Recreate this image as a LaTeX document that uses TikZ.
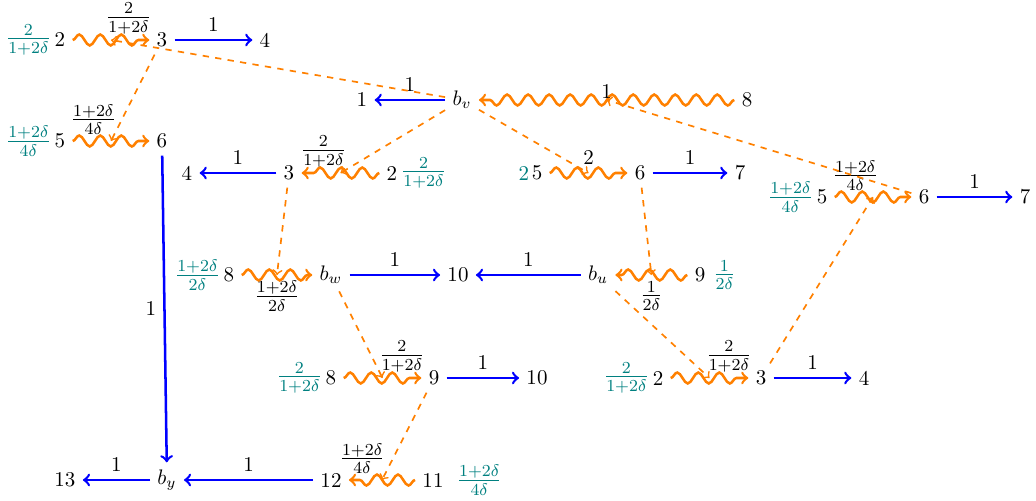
\documentclass[tikz,border=0pt]{standalone}
\usepackage{amsmath}
\usetikzlibrary{decorations.pathmorphing}
% fractions used as weights
\newcommand{\wfrac}[2]{{\large$\frac{#1}{#2}$}}

\begin{document}
\begin{tikzpicture}[x=0.01673cm, y=-0.01673cm,
  wavy/.style={draw=orange, very thick, ->, decorate, decoration={snake, segment length=10pt, amplitude=2.6pt, post length=2pt}},
  flow/.style={draw=blue, very thick, ->},
  push/.style={draw=orange, thick, dashed, ->},
  wt/.style={teal, inner sep=0pt}]
% Fix the size of the picture
\useasboundingbox (0,0) rectangle (1036,501);
% Draw the vertices, top block
\node (tl2) at (60,40) [label={[wt, label distance=-2pt]left:\wfrac{2}{1+2\delta}}] {2};
\node (tl3) at (162,40) {3};
\node (tl4) at (265,40) {4};
\node (tl5) at (60,141) [label={[wt, label distance=-2pt]left:\wfrac{1+2\delta}{4\delta}}] {5};
\node (tl6) at (162,141) {6};
% Draw the vertices around b_v
\node (one) at (362,100) {1};
\node (bv) at (462,100) {$b_v$};
\node (eight) at (747,100) {8};
\node (l4) at (187,173) {4};
\node (l3) at (289,173) {3};
\node (l2) at (392,173) [label={[wt, label distance=-2pt]right:\wfrac{2}{1+2\delta}}] {2};
\node (m5) at (537,173) [label={[wt, label distance=-2.5pt]left:2}] {5};
\node (m6) at (640,173) {6};
\node (m7) at (740,173) {7};
\node (r5) at (822,197) [label={[wt, label distance=-2pt]left:\wfrac{1+2\delta}{4\delta}}] {5};
\node (r6) at (924,197) {6};
\node (r7) at (1025,197) {7};
% Draw the vertices around b_w and b_u
\node (w8) at (229,275) [label={[wt, label distance=-2pt]left:\wfrac{1+2\delta}{2\delta}}] {8};
\node (bw) at (331,275) {$b_w$};
\node (ten) at (458,275) {10};
\node (bu) at (598,275) {$b_u$};
\node (u9) at (700,275) [label={[wt]right:\wfrac{1}{2\delta}}] {9};
\node (x8) at (331,378) [label={[wt, label distance=-2pt]left:\wfrac{2}{1+2\delta}}] {8};
\node (x9) at (434,378) {9};
\node (x10) at (537,378) {10};
\node (y2) at (658,378) [label={[wt, label distance=-2pt]left:\wfrac{2}{1+2\delta}}] {2};
\node (y3) at (761,378) {3};
\node (y4) at (864,378) {4};
% Draw the bottom row
\node (n13) at (65,480) {13};
\node (by) at (167,480) {$b_y$};
\node (n12) at (331,480) {12};
\node (n11) at (433,480) [label={[wt, label distance=2.5pt]right:\wfrac{1+2\delta}{4\delta}}] {11};
% Draw the wavy edges
\draw[wavy] (tl2) -- node[pos=.73, above=-1pt] {\wfrac{2}{1+2\delta}} coordinate[midway] (s2) (tl3);
\draw[wavy] (tl5) -- node[pos=.27, above=-1pt] {\wfrac{1+2\delta}{4\delta}} coordinate[midway] (s5) (tl6);
\draw[wavy] (eight) -- node[midway, above=-3pt] {1} coordinate[midway] (sv) (bv);
\draw[wavy] (l2) -- node[pos=.72, above=-1pt] {\wfrac{2}{1+2\delta}} coordinate[midway] (sl) (l3);
\draw[wavy] (m5) -- node[midway, above] {2} coordinate[midway] (sm) (m6);
\draw[wavy] (r5) -- node[pos=.27, above=-1pt] {\wfrac{1+2\delta}{4\delta}} coordinate[midway] (sr) (r6);
\draw[wavy] (w8) -- node[midway, below=-1pt] {\wfrac{1+2\delta}{2\delta}} coordinate[midway] (sw) (bw);
\draw[wavy] (u9) -- node[midway, below=-1pt] {\wfrac{1}{2\delta}} coordinate[midway] (su) (bu);
\draw[wavy] (x8) -- node[pos=.75, above=-1pt] {\wfrac{2}{1+2\delta}} coordinate[midway] (sx) (x9);
\draw[wavy] (y2) -- node[pos=.75, above=-1pt] {\wfrac{2}{1+2\delta}} coordinate[midway] (sy) (y3);
\draw[wavy] (n11) -- node[pos=.8, above=-1pt] {\wfrac{1+2\delta}{4\delta}} coordinate[midway] (sn) (n12);
% Draw the blue edges
\draw[flow] (tl3) -- node[above] {1} (tl4);
\draw[flow] (bv) -- node[above] {1} (one);
\draw[flow] (l3) -- node[above] {1} (l4);
\draw[flow] (m6) -- node[above] {1} (m7);
\draw[flow] (r6) -- node[above] {1} (r7);
\draw[flow] (bw) -- node[above] {1} (ten);
\draw[flow] (bu) -- node[above] {1} (ten);
\draw[flow] (x9) -- node[above] {1} (x10);
\draw[flow] (y3) -- node[above] {1} (y4);
\draw[flow] (tl6) -- node[left] {1} (by);
\draw[flow] (n12) -- node[above] {1} (by);
\draw[flow] (by) -- node[above] {1} (n13);
% Draw the dashed pushes onto the wavy edges
\draw[push] (bv) -- (s2);
\draw[push] (tl3) -- (s5);
\draw[push] (bv) -- (sl);
\draw[push] (bv) -- (sm);
\draw[push] (r6) -- (sv);
\draw[push] (m6) -- (su);
\draw[push] (l3) -- (sw);
\draw[push] (bw) -- (sx);
\draw[push] (bu) -- (sy);
\draw[push] (y3) -- (sr);
\draw[push] (x9) -- (sn);
\end{tikzpicture}
\end{document}
